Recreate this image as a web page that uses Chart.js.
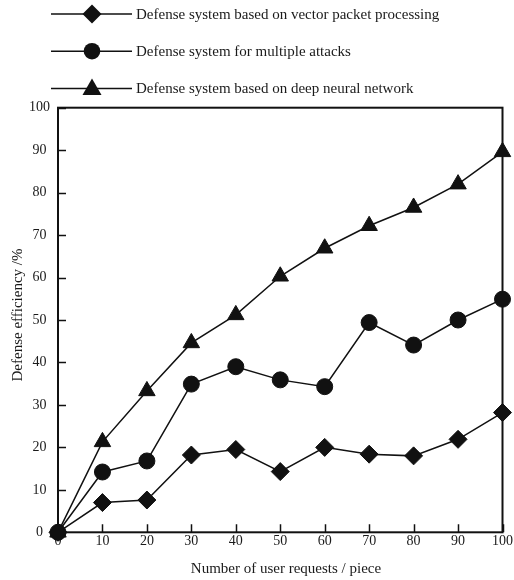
<!DOCTYPE html>
<html>
<head>
<meta charset="utf-8">
<style>
  html, body { margin: 0; padding: 0; background: #fff; }
  #wrap { width: 514px; height: 580px; position: relative; }
</style>
<script src="https://cdn.jsdelivr.net/npm/chart.js@4/dist/chart.umd.min.js"></script>
</head>
<body>
<div id="wrap"><canvas id="c" width="514" height="580"></canvas></div>
<script>
// Number of user requests (pieces)
const requests = [0, 10, 20, 30, 40, 50, 60, 70, 80, 90, 100];

// Defense efficiency (%) per system
const vectorPacket = [0, 7.0, 7.6, 18.2, 19.5, 14.3, 20.0, 18.4, 18.0, 21.9, 28.2];
const multipleAttacks = [0, 14.2, 16.8, 34.9, 39.0, 35.9, 34.3, 49.4, 44.1, 50.0, 54.9];
const deepNeural = [0, 21.3, 33.3, 44.6, 51.2, 60.3, 66.9, 72.2, 76.5, 82.0, 89.6];

const seriesNames = [
  'Defense system based on vector packet processing',
  'Defense system for multiple attacks',
  'Defense system based on deep neural network'
];

const xTitle = 'Number of user requests / piece';
const yTitle = 'Defense efficiency /%';

const serif = '"Liberation Serif", "Times New Roman", serif';
const ink = '#111';
const textInk = '#1a1a1a';

function pts(values) {
  return requests.map((x, i) => ({ x: x, y: values[i] }));
}

function marker(ctx, style, x, y, r) {
  ctx.beginPath();
  if (style === 'rectRot') {
    ctx.moveTo(x - r, y); ctx.lineTo(x, y - r); ctx.lineTo(x + r, y); ctx.lineTo(x, y + r);
  } else if (style === 'circle') {
    ctx.arc(x, y, r, 0, Math.PI * 2);
  } else {
    ctx.moveTo(x, y - r);
    ctx.lineTo(x + Math.sin(2 * Math.PI / 3) * r, y + 0.5 * r);
    ctx.lineTo(x - Math.sin(2 * Math.PI / 3) * r, y + 0.5 * r);
  }
  ctx.closePath();
  ctx.fill();
}

// Frame around the plot plus inward tick marks on the left and bottom axes
const framePlugin = {
  id: 'frame',
  beforeDatasetsDraw(chart) {
    const { ctx, chartArea: a, scales } = chart;
    ctx.save();
    ctx.strokeStyle = ink;
    ctx.lineWidth = 2;
    ctx.strokeRect(a.left, a.top, a.right - a.left, a.bottom - a.top);
    ctx.lineWidth = 1.5;
    ctx.beginPath();
    scales.y.ticks.forEach((t, i) => {
      const py = Math.round(scales.y.getPixelForTick(i)) + 0.5;
      ctx.moveTo(a.left, py); ctx.lineTo(a.left + 8, py);
    });
    scales.x.ticks.forEach((t, i) => {
      const px = Math.round(scales.x.getPixelForTick(i)) + 0.5;
      ctx.moveTo(px, a.bottom); ctx.lineTo(px, a.bottom - 8);
    });
    ctx.stroke();

    // axis titles
    ctx.fillStyle = textInk;
    ctx.font = '15px ' + serif;
    ctx.textAlign = 'center';
    ctx.textBaseline = 'alphabetic';
    ctx.fillText(xTitle, 286, 573.3);
    ctx.save();
    ctx.translate(21.7, 315);
    ctx.rotate(-Math.PI / 2);
    ctx.fillText(yTitle, 0, 0);
    ctx.restore();
    ctx.restore();
  }
};

// Stacked legend: line with the series marker in the middle, then the name
const legendPlugin = {
  id: 'stackLegend',
  afterDraw(chart) {
    const ctx = chart.ctx;
    ctx.save();
    chart.data.datasets.forEach((ds, i) => {
      const y = 14 + i * 37.2;
      ctx.strokeStyle = ink;
      ctx.fillStyle = ink;
      ctx.lineWidth = 1.5;
      ctx.beginPath();
      ctx.moveTo(51, y); ctx.lineTo(132, y);
      ctx.stroke();
      const r = ds.pointStyle === 'circle' ? 8.3 : (ds.pointStyle === 'triangle' ? 11 : 9.5);
      const dy = ds.pointStyle === 'triangle' ? 1 : 0;
      marker(ctx, ds.pointStyle, 92, y + dy, r);
      ctx.font = '15px ' + serif;
      ctx.textBaseline = 'alphabetic';
      ctx.textAlign = 'left';
      ctx.fillStyle = textInk;
      ctx.fillText(ds.label, 136, y + 4.8);
    });
    ctx.restore();
  }
};

function dataset(label, values, style, radius) {
  return {
    label: label,
    data: pts(values),
    borderColor: ink,
    backgroundColor: ink,
    borderWidth: 1.5,
    pointStyle: style,
    pointRadius: radius,
    pointHoverRadius: radius,
    pointBackgroundColor: ink,
    pointBorderColor: ink,
    pointBorderWidth: 1,
    tension: 0,
    clip: false
  };
}

new Chart(document.getElementById('c'), {
  type: 'line',
  data: {
    datasets: [
      dataset(seriesNames[0], vectorPacket, 'rectRot', 9),
      dataset(seriesNames[1], multipleAttacks, 'circle', 8),
      dataset(seriesNames[2], deepNeural, 'triangle', 9.5)
    ]
  },
  options: {
    responsive: false,
    animation: false,
    devicePixelRatio: 1,
    layout: { padding: { top: 107.7, right: 11.5, bottom: 0, left: 0 } },
    plugins: { legend: { display: false }, tooltip: { enabled: false } },
    scales: {
      x: {
        type: 'linear',
        min: 0, max: 100,
        afterFit(s) { s.height = 47.7; },
        ticks: { stepSize: 10, color: textInk, padding: 1, font: { family: serif, size: 14 } },
        grid: { display: false, drawTicks: false },
        border: { display: false },
        title: { display: false }
      },
      y: {
        min: 0, max: 100,
        afterFit(s) { s.width = 58; },
        ticks: { stepSize: 10, color: textInk, padding: 8, crossAlign: 'center', font: { family: serif, size: 14 } },
        grid: { display: false, drawTicks: false },
        border: { display: false },
        title: { display: false }
      }
    }
  },
  plugins: [framePlugin, legendPlugin]
});
</script>
</body>
</html>
